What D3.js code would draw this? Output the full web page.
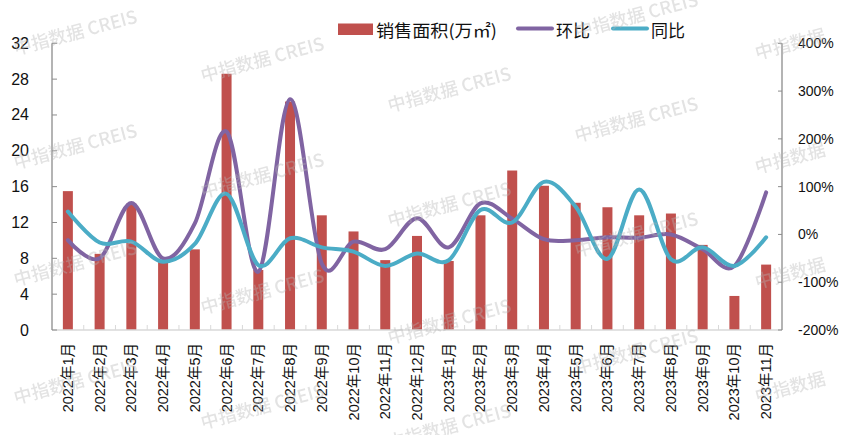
<!DOCTYPE html>
<html><head><meta charset="utf-8">
<script src="https://cdn.jsdelivr.net/npm/d3@7"></script>
<style>
html,body{margin:0;padding:0;background:#fff;}
svg{display:block;}
text{font-family:"Liberation Sans","Noto Sans CJK SC",sans-serif;}
</style></head>
<body>
<svg id="chart" width="847" height="435"></svg>
<script>
const months = ["2022年1月","2022年2月","2022年3月","2022年4月","2022年5月","2022年6月","2022年7月","2022年8月","2022年9月","2022年10月","2022年11月","2022年12月","2023年1月","2023年2月","2023年3月","2023年4月","2023年5月","2023年6月","2023年7月","2023年8月","2023年9月","2023年10月","2023年11月"];
const salesArea = [15.5, 8.5, 14.1, 7.6, 9.0, 28.6, 6.7, 25.5, 12.8, 11.0, 7.8, 10.5, 7.7, 12.8, 17.8, 16.1, 14.2, 13.7, 12.8, 13.0, 9.5, 3.8, 7.3];
const mom = [-12, -50, 66, -50, 23, 215, -78, 283, -61, -15, -31, 34, -27, 65, 33, -10, -12, -6, -7, 0, -31, -66, 88];
const yoy = [48, -17, -15, -57, -20, 85, -64, -8, -27, -36, -66, -40, -54, 51, 25, 110, 58, -51, 94, -52, -27, -66, -6];
const leftTicks = [0, 4, 8, 12, 16, 20, 24, 28, 32];
const rightTicks = [-200, -100, 0, 100, 200, 300, 400];
const seriesNames = ["销售面积(万㎡)", "环比", "同比"];
const colors = {bar: "#c0504d", mom: "#8064a2", yoy: "#4bacc6"};

const svg = d3.select("#chart");
const L = 52, R = 782, T = 43.3, B = 330;

const x = d3.scaleBand().domain(months).range([L, R]).paddingInner(0.685).paddingOuter(0.3425);
const step = x.step();
const cx = d => x(d) + x.bandwidth() / 2;
const yL = d3.scaleLinear().domain([0, 32]).range([B, T]);
const yR = d3.scaleLinear().domain([-200, 400]).range([B, T]);

// bars
svg.append("g").selectAll("rect").data(months).join("rect")
  .attr("x", d => x(d)).attr("width", x.bandwidth())
  .attr("y", (d, i) => yL(salesArea[i]))
  .attr("height", (d, i) => yL(0) - yL(salesArea[i]))
  .attr("fill", colors.bar);

// x axis
const gx = svg.append("g");
gx.append("line").attr("x1", L).attr("x2", R).attr("y1", B).attr("y2", B)
  .attr("stroke", "#d9d9d9").attr("stroke-width", 1.3);
gx.selectAll("line.t").data(months.slice(1)).join("line").attr("class", "t")
  .attr("x1", d => x(d) - (step - x.bandwidth()) / 2).attr("x2", d => x(d) - (step - x.bandwidth()) / 2)
  .attr("y1", B).attr("y2", B - 5).attr("stroke", "#d9d9d9").attr("stroke-width", 1);
gx.selectAll("text").data(months).join("text")
  .attr("transform", d => `translate(${cx(d)},${B + 13}) rotate(-90)`)
  .attr("text-anchor", "end").attr("dominant-baseline", "central")
  .attr("font-size", 14.5).attr("fill", "#111").text(d => d);

// left axis
const gl = svg.append("g");
gl.append("line").attr("x1", L).attr("x2", L).attr("y1", T).attr("y2", B).attr("stroke", "#8c8c8c").attr("stroke-width", 1.3);
gl.selectAll("line.t").data(leftTicks).join("line").attr("class", "t")
  .attr("x1", L).attr("x2", L + 5).attr("y1", d => yL(d)).attr("y2", d => yL(d)).attr("stroke", "#8c8c8c");
gl.selectAll("text").data(leftTicks).join("text")
  .attr("x", 29).attr("y", d => yL(d)).attr("text-anchor", "end").attr("dominant-baseline", "central")
  .attr("font-size", 16).attr("fill", "#111").text(d => d);

// right axis
const gr = svg.append("g");
gr.append("line").attr("x1", R).attr("x2", R).attr("y1", T).attr("y2", B).attr("stroke", "#8c8c8c").attr("stroke-width", 1.3);
gr.selectAll("line.t").data(rightTicks).join("line").attr("class", "t")
  .attr("x1", R - 4).attr("x2", R).attr("y1", d => yR(d)).attr("y2", d => yR(d)).attr("stroke", "#8c8c8c");
gr.selectAll("text").data(rightTicks).join("text")
  .attr("x", 798).attr("y", d => yR(d)).attr("dominant-baseline", "central")
  .attr("font-size", 14).attr("fill", "#111").text(d => d + "%");

// lines
const line = vals => d3.line().curve(d3.curveCatmullRom.alpha(0))
  .x((d, i) => cx(months[i])).y(d => yR(d))(vals);
svg.append("path").attr("d", line(mom)).attr("fill", "none").attr("stroke", colors.mom)
  .attr("stroke-width", 4).attr("stroke-linecap", "round").attr("stroke-linejoin", "round");
svg.append("path").attr("d", line(yoy)).attr("fill", "none").attr("stroke", colors.yoy)
  .attr("stroke-width", 4).attr("stroke-linecap", "round").attr("stroke-linejoin", "round");

// legend
const lg = svg.append("g");
lg.append("rect").attr("x", 338).attr("y", 23.5).attr("width", 35).attr("height", 11.5).attr("fill", colors.bar);
lg.append("text").attr("x", 376).attr("y", 29).attr("dominant-baseline", "central")
  .attr("font-size", 17).attr("textLength", 121).attr("lengthAdjust", "spacingAndGlyphs")
  .attr("fill", "#111").style("font-family", "'Noto Sans CJK SC',sans-serif").text(seriesNames[0]);
lg.append("line").attr("x1", 518).attr("x2", 552).attr("y1", 28.5).attr("y2", 28.5)
  .attr("stroke", colors.mom).attr("stroke-width", 4).attr("stroke-linecap", "round");
lg.append("text").attr("x", 556).attr("y", 29).attr("dominant-baseline", "central")
  .attr("font-size", 17).attr("fill", "#111").style("font-family", "'Noto Sans CJK SC',sans-serif").text(seriesNames[1]);
lg.append("line").attr("x1", 613).attr("x2", 647).attr("y1", 28.5).attr("y2", 28.5)
  .attr("stroke", colors.yoy).attr("stroke-width", 4).attr("stroke-linecap", "round");
lg.append("text").attr("x", 651).attr("y", 29).attr("dominant-baseline", "central")
  .attr("font-size", 17).attr("fill", "#111").style("font-family", "'Noto Sans CJK SC',sans-serif").text(seriesNames[2]);

// watermarks
const wmText = "中指数据  CREIS";
const wmShort = "中指数据";
const wmCenters = [[75,31],[75,145],[75,262],[75,380],
  [262,58],[262,174],[262,290],[262,405],
  [449,88],[449,203],[449,320],[449,425],
  [636,14],[636,118],[636,233],[636,350]];
const wmRight = [[755,52],[755,166],[755,281],[755,395]];
const wm = svg.append("g").attr("fill", "#b4b4b4").attr("opacity", 0.38)
  .attr("font-size", 18).attr("font-weight", 500).style("white-space", "pre");
wm.selectAll("text.c").data(wmCenters).join("text").attr("class", "c")
  .attr("transform", d => `translate(${d[0]},${d[1]}) rotate(-15)`)
  .attr("text-anchor", "middle").attr("dominant-baseline", "central")
  .style("font-family", "'Noto Sans CJK SC',sans-serif").text(wmText);
wm.selectAll("text.r").data(wmRight).join("text").attr("class", "r")
  .attr("transform", d => `translate(${d[0]},${d[1]}) rotate(-15)`)
  .attr("text-anchor", "start").attr("dominant-baseline", "central")
  .style("font-family", "'Noto Sans CJK SC',sans-serif").text(wmShort);
</script>
</body></html>
